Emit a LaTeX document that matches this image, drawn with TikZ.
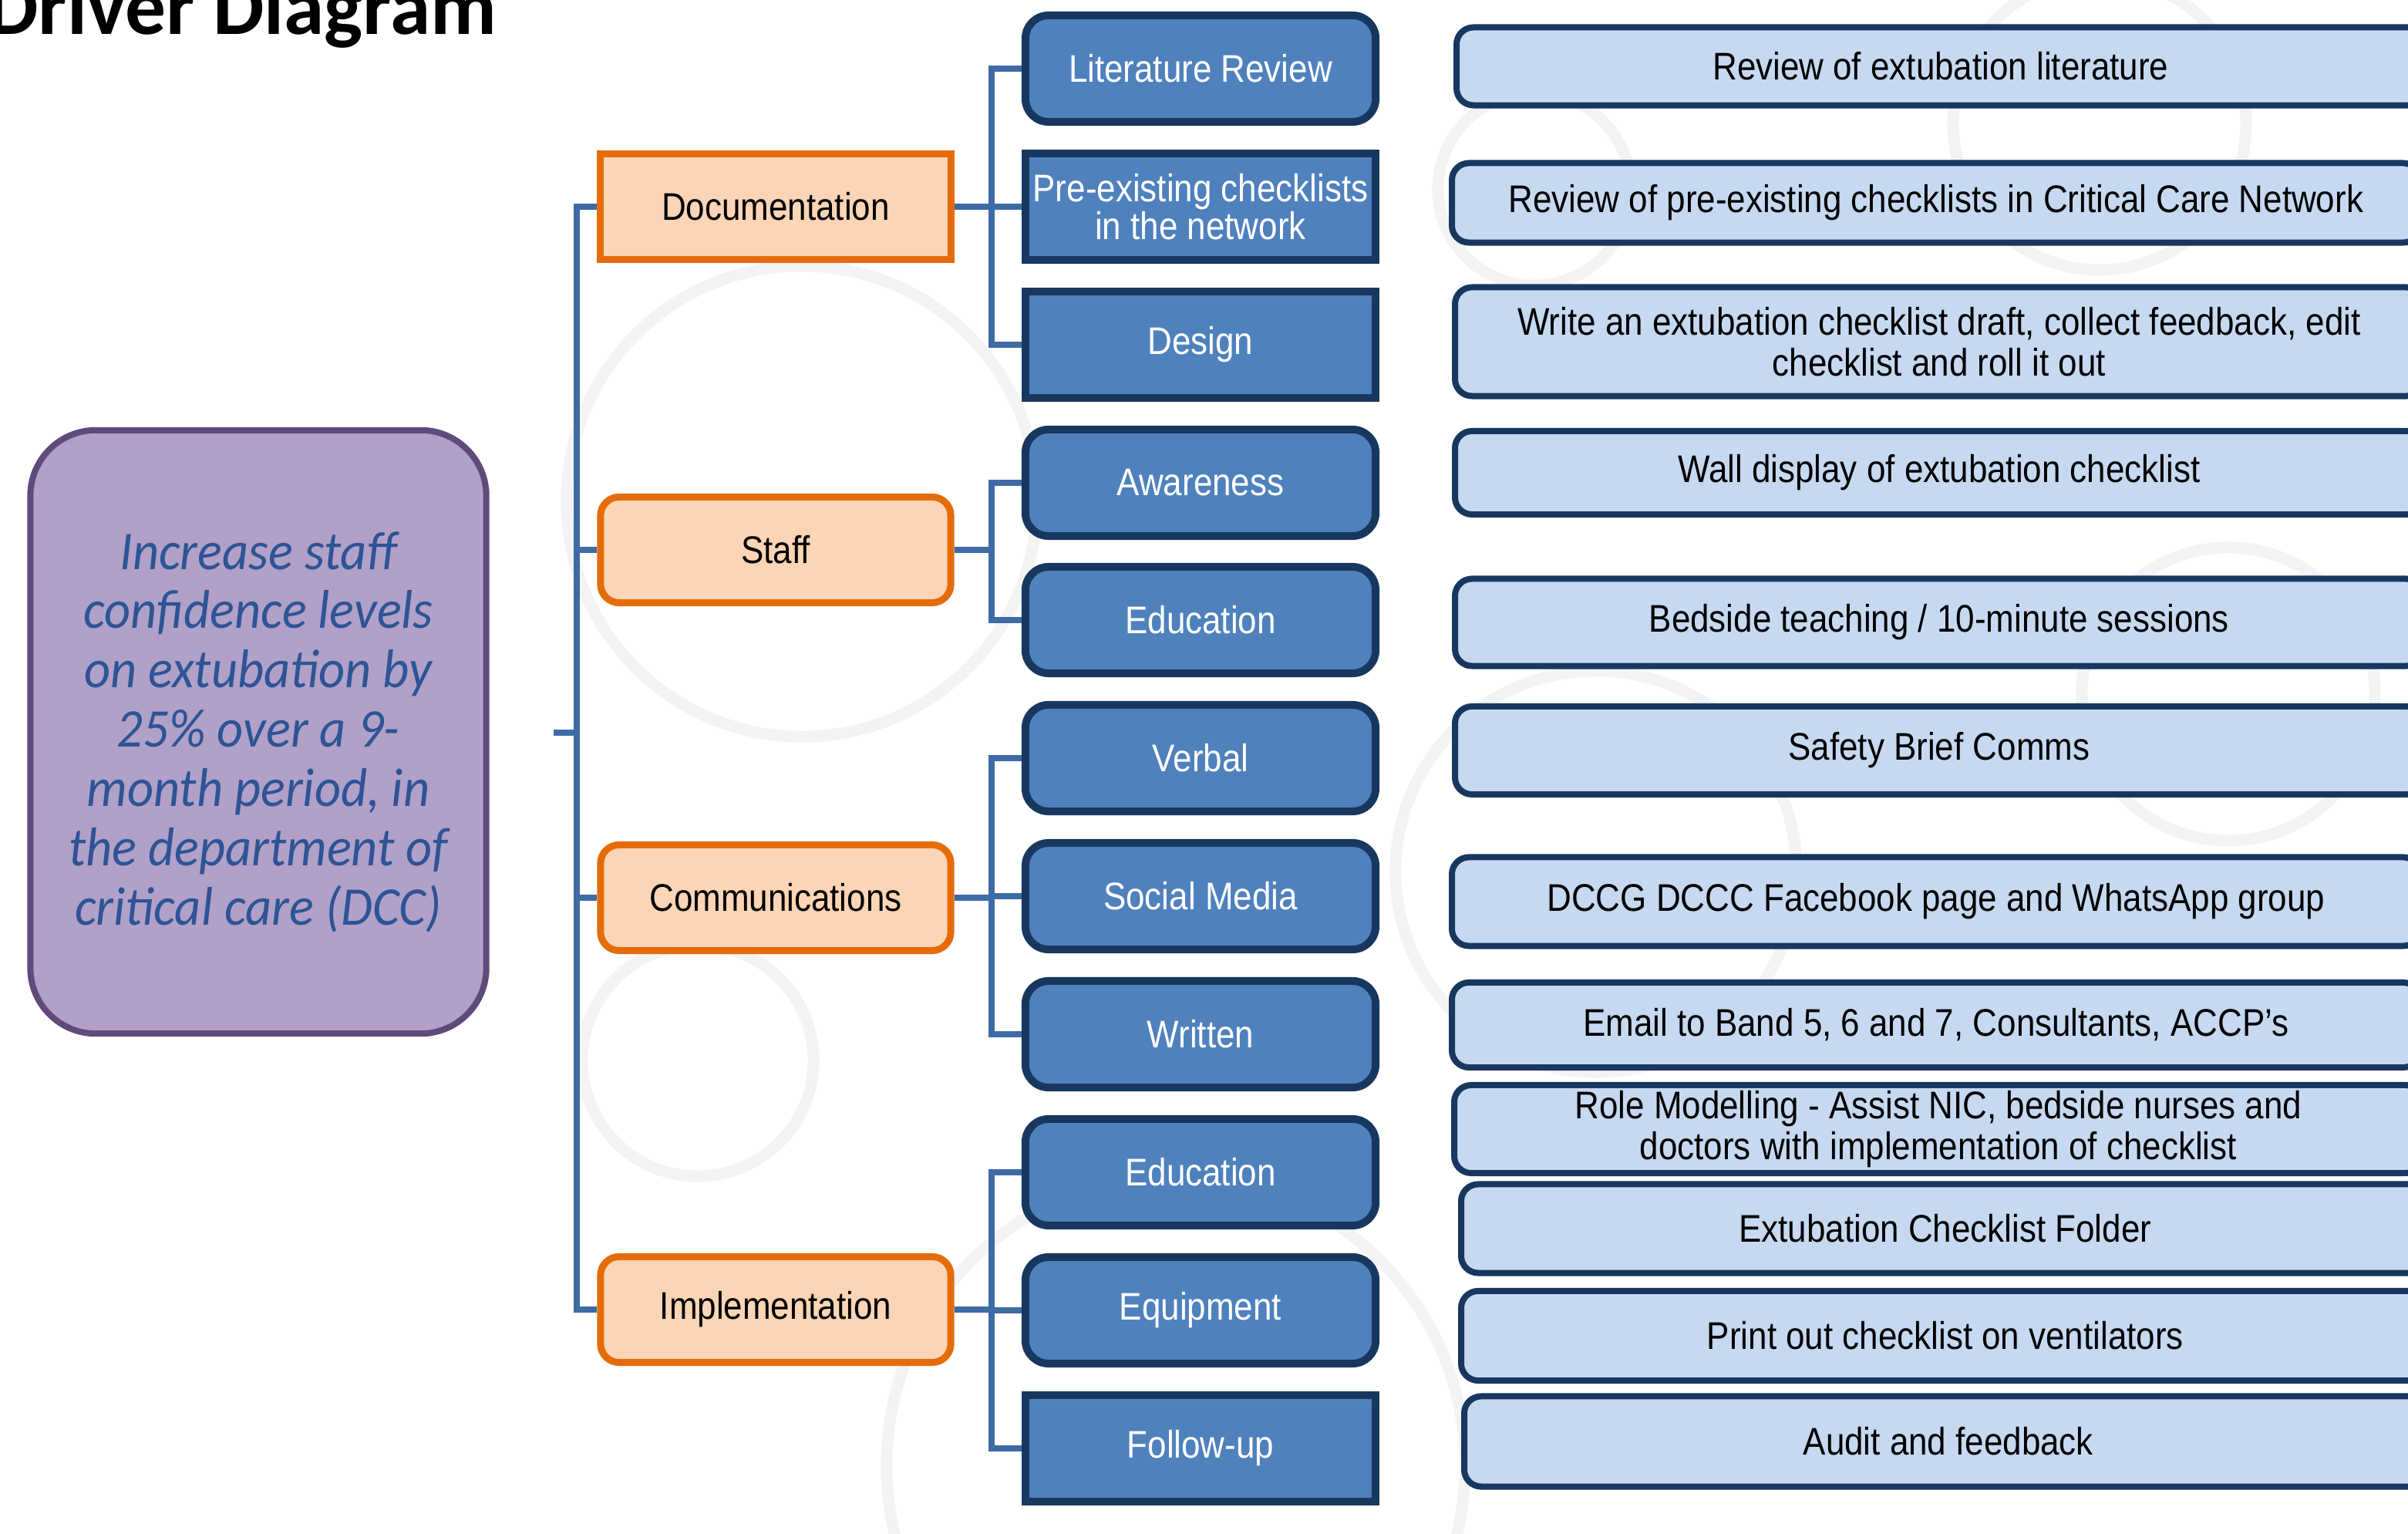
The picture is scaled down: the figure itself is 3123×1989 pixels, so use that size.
\documentclass[tikz,border=0pt]{standalone}
\usepackage{fontspec}
\setmainfont{Liberation Sans}[FakeStretch=0.88]
\newfontfamily\goalfont{Carlito}[FakeStretch=0.94]
\newfontfamily\titlefont{Carlito}

\definecolor{ringgray}{RGB}{243,243,243}
\definecolor{linkblue}{RGB}{62,106,166}
\definecolor{navy}{RGB}{24,55,95}
\definecolor{changeblue}{RGB}{79,129,189}
\definecolor{actfill}{RGB}{198,217,241}
\definecolor{drvfill}{RGB}{251,213,181}
\definecolor{drvline}{RGB}{228,108,10}
\definecolor{goalfill}{RGB}{177,160,199}
\definecolor{goalline}{RGB}{96,74,123}
\definecolor{goaltext}{RGB}{44,84,150}

\tikzset{
	ring/.style={draw=ringgray, line width=0.15cm},
	linkline/.style={draw=linkblue, line width=0.08cm},
	goalbox/.style={draw=goalline, fill=goalfill, line width=0.08cm, rounded corners=0.85cm,
		minimum width=5.91cm, minimum height=7.82cm, inner sep=0, align=center, text=goaltext,
		font=\goalfont\itshape\fontsize{20.1}{21.85}\selectfont},
	drvbox/.style={draw=drvline, fill=drvfill, line width=0.09cm, minimum width=4.54cm,
		minimum height=1.37cm, inner sep=0, font=\fontsize{14.2}{15}\selectfont},
	drvround/.style={drvbox, rounded corners=0.24cm},
	chgbox/.style={draw=navy, fill=changeblue, line width=0.1cm, minimum width=4.54cm,
		minimum height=1.38cm, inner sep=0, align=center, text=white,
		font=\fontsize{14.2}{13.8}\selectfont},
	chground/.style={chgbox, rounded corners=0.3cm},
	actbox/.style={draw=navy, fill=actfill, line width=0.08cm, rounded corners=0.22cm,
		minimum width=12.55cm, inner sep=0, anchor=west, align=center,
		font=\fontsize{14.2}{15.2}\selectfont}
}

\begin{document}
\begin{tikzpicture}[x=0.01cm, y=-0.01cm]

	\useasboundingbox (0,0) rectangle (3123,1989);

	\draw[ring] (1040,650) circle (3.05cm);
	\draw[ring] (2723,160) circle (1.9cm);
	\draw[ring] (1990,245) circle (1.25cm);
	\draw[ring] (2890,900) circle (1.9cm);
	\draw[ring] (2070,1130) circle (2.6cm);
	\draw[ring] (905,1375) circle (1.5cm);
	\draw[ring] (1525,1900) circle (3.75cm);

	\node[anchor=base east, inner sep=0, font=\titlefont\bfseries\fontsize{30}{36}\selectfont] (title) at (645,45) {Driver Diagram};

	\node[goalbox] (goal) at (335,949) {Increase staff\\confidence levels\\on extubation by\\25\% over a 9-\\month period, in\\the department of\\critical care (DCC)};

	\node[drvbox] (doc) at (1006,268) {Documentation};
	\node[drvround] (staff) at (1006,713) {Staff};
	\node[drvround] (comm) at (1006,1164) {Communications};
	\node[drvround] (impl) at (1006,1698) {Implementation};

	\node[chground] (lit) at (1557,89) {Literature Review};
	\node[chgbox] (pre) at (1557,268) {Pre-existing checklists\\in the network};
	\node[chgbox] (des) at (1557,447) {Design};
	\node[chground] (aware) at (1557,626) {Awareness};
	\node[chground] (edua) at (1557,804) {Education};
	\node[chground] (verbal) at (1557,983) {Verbal};
	\node[chground] (social) at (1557,1162) {Social Media};
	\node[chground] (written) at (1557,1341) {Written};
	\node[chground] (edub) at (1557,1520) {Education};
	\node[chground] (equip) at (1557,1699) {Equipment};
	\node[chgbox] (follow) at (1557,1878) {Follow-up};

	\node[actbox, minimum height=1.01cm] (a1) at (1885,86) {Review of extubation literature};
	\node[actbox, minimum height=1.03cm] (a2) at (1879,263) {Review of pre-existing checklists in Critical Care Network};
	\node[actbox, minimum height=1.41cm] (a3) at (1883,443) {Write an extubation checklist draft, collect feedback, edit\\checklist and roll it out};
	\node[actbox, minimum height=1.08cm] (a4) at (1883,613) {Wall display of extubation checklist};
	\node[actbox, minimum height=1.13cm] (a5) at (1883,807) {Bedside teaching / 10-minute sessions};
	\node[actbox, minimum height=1.14cm] (a6) at (1883,973) {Safety Brief Comms};
	\node[actbox, minimum height=1.15cm] (a7) at (1879,1169) {DCCG DCCC Facebook page and WhatsApp group};
	\node[actbox, minimum height=1.10cm] (a8) at (1879,1329) {Email to Band 5, 6 and 7, Consultants, ACCP's};
	\node[actbox, minimum height=1.14cm] (a9) at (1882,1464) {Role Modelling - Assist NIC, bedside nurses and\\doctors with implementation of checklist};
	\node[actbox, minimum height=1.15cm] (a10) at (1891,1593) {Extubation Checklist Folder};
	\node[actbox, minimum height=1.16cm] (a11) at (1891,1732) {Print out checklist on ventilators};
	\node[actbox, minimum height=1.17cm] (a12) at (1895,1869) {Audit and feedback};

	\coordinate (tick) at (718,950);
	\coordinate (trunk) at (748,950);
	\draw[linkline] (tick) -- (trunk);
	\foreach \d in {doc,staff,comm,impl}
		\draw[linkline] (\d.west) -| (trunk);

	\foreach \c in {lit,pre,des}
		\draw[linkline] (doc.east) -- ++(48,0) |- (\c.west);
	\foreach \c in {aware,edua}
		\draw[linkline] (staff.east) -- ++(48,0) |- (\c.west);
	\foreach \c in {verbal,social,written}
		\draw[linkline] (comm.east) -- ++(48,0) |- (\c.west);
	\foreach \c in {edub,equip,follow}
		\draw[linkline] (impl.east) -- ++(48,0) |- (\c.west);

\end{tikzpicture}
\end{document}
